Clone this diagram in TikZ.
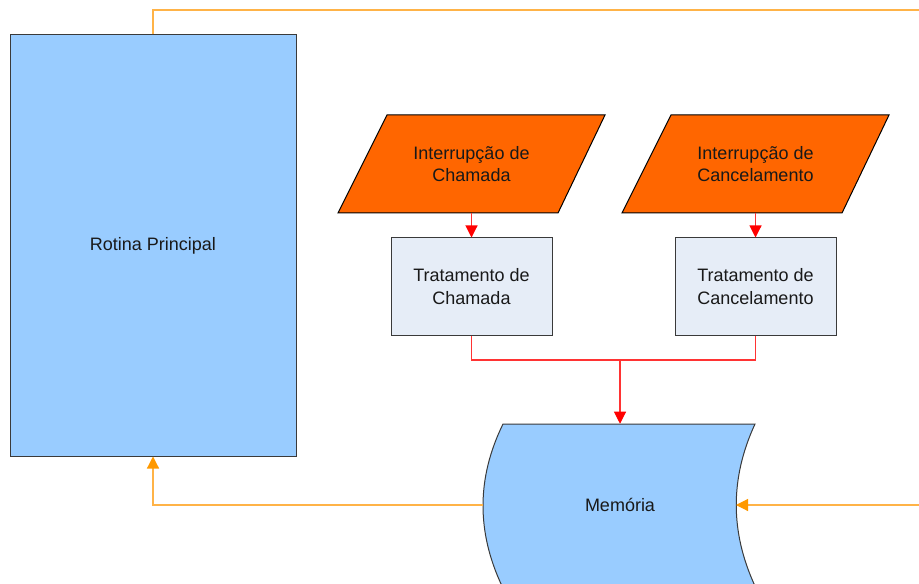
\documentclass[tikz,border=0pt]{standalone}
\usepackage{fontspec}
\setmainfont{Liberation Sans}
\usetikzlibrary{arrows.meta}
\definecolor{boxblue}{HTML}{99CCFF}
\definecolor{boxpale}{HTML}{E6EDF7}
\definecolor{porange}{HTML}{FF6600}
\definecolor{lineorange}{HTML}{FFB347}
\definecolor{tiporange}{HTML}{FF9900}
\definecolor{linered}{HTML}{FF3333}
\definecolor{edgegray}{HTML}{3A3A3A}
\tikzset{
  txt/.style={font=\fontsize{13.5}{17}\selectfont, align=center, text=black!90},
  bluebox/.style={txt, draw=edgegray, fill=boxblue, line width=0.75pt, inner sep=0pt,
    minimum width=214.5pt, minimum height=315.75pt},
  palebox/.style={txt, draw=edgegray, fill=boxpale, line width=0.75pt, inner sep=0pt,
    minimum width=120.75pt, minimum height=72.75pt},
  shapeedge/.style={draw=black, line width=0.75pt},
  redconn/.style={draw=linered, line width=0.8pt},
  redarrow/.style={redconn, -{Triangle[width=9pt,length=9pt,fill=red,color=red]}},
  orconn/.style={draw=lineorange, line width=0.9pt},
  orarrow/.style={orconn, -{Triangle[width=9pt,length=9pt,fill=tiporange,color=tiporange]}},
}
\begin{document}
\begin{tikzpicture}[x=0.75pt, y=-0.75pt]
\useasboundingbox (0,0) rectangle (919,584);
\clip (0,0) rectangle (919,584);

% Rotina Principal
\node[bluebox] (rot) at (153,245.5) {Rotina Principal};

% Parallelograms
\path[shapeedge, fill=porange] (387,115) -- (605,115) -- (558,213) -- (338,213) -- cycle;
\node[txt, inner sep=0pt, minimum height=73.5pt] (int1) at (471.5,164) {Interrup\c{c}\~ao de\\Chamada};
\path[shapeedge, fill=porange] (671,115) -- (889,115) -- (842,213) -- (622,213) -- cycle;
\node[txt, inner sep=0pt, minimum height=73.5pt] (int2) at (755.5,164) {Interrup\c{c}\~ao de\\Cancelamento};

% Tratamento boxes
\node[palebox] (tr1) at (471.5,286.5) {Tratamento de\\Chamada};
\node[palebox] (tr2) at (755.5,286.5) {Tratamento de\\Cancelamento};

% Memoria (stored data shape)
\path[draw=edgegray, line width=0.75pt, fill=boxblue]
  (503,424) -- (755,424)
  .. controls (730,478) and (730,532) .. (755,586)
  -- (502,586)
  .. controls (476.5,532) and (476.5,478) .. (503,424) -- cycle;
\node[txt, inner sep=0pt, minimum width=204pt, minimum height=121.5pt] (mem) at (620,505) {Mem\'oria};
\coordinate (memR) at (736,505);
\coordinate (memL) at (483,505);

% red connectors
\draw[redarrow] (int1.south) -- (tr1.north);
\draw[redarrow] (int2.south) -- (tr2.north);
\coordinate (join) at (620,360);
\draw[redconn] (tr1.south) |- (join);
\draw[redconn] (tr2.south) |- (join);
\draw[redarrow] (join) -- (mem.north);

% orange connectors
\coordinate (topR) at (919,10);
\coordinate (botR) at (919,505);
\draw[orconn] (rot.north) -- (153,10) -- (topR);
\draw[orarrow] (memL) -| (rot.south);
\draw[orarrow] (botR) -- (memR);
\end{tikzpicture}
\end{document}
